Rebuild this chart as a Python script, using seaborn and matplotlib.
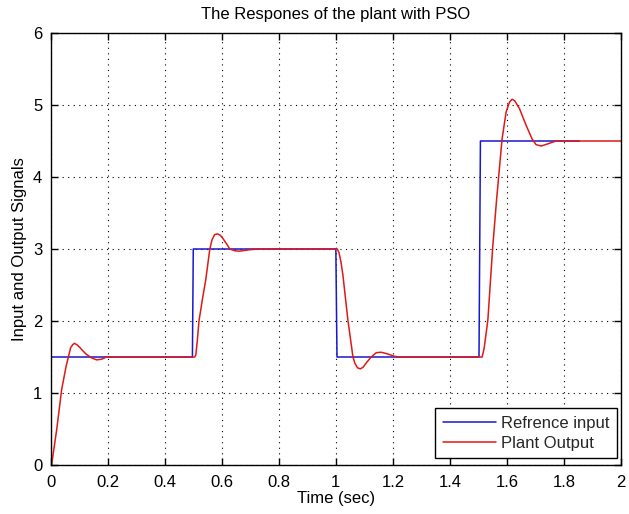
import matplotlib
matplotlib.use("Agg")
import matplotlib.pyplot as plt
import seaborn as sns
import pandas as pd

# Reference input (step signal)
ref_t = [0.0, 0.497, 0.500, 1.000, 1.004, 1.502, 1.507, 1.854]
ref_v = [1.5, 1.5, 3.0, 3.0, 1.5, 1.5, 4.5, 4.5]

# Plant output
out_t = [0.003, 0.021, 0.0385, 0.054, 0.062, 0.070, 0.077, 0.083, 0.092, 0.1026,
         0.114, 0.126, 0.1436, 0.161, 0.179, 0.196, 0.505,
         0.509, 0.514, 0.520, 0.532, 0.544, 0.558, 0.566, 0.575, 0.585, 0.595, 0.605, 0.617,
         0.628, 0.646, 0.663, 0.680, 0.698, 0.730, 1.005,
         1.011, 1.018, 1.025, 1.042, 1.060, 1.067, 1.076, 1.086, 1.096, 1.107, 1.124, 1.142,
         1.159, 1.175, 1.188, 1.205, 1.223, 1.513,
         1.520, 1.533, 1.550, 1.564, 1.583, 1.597, 1.609, 1.618, 1.627, 1.644, 1.667,
         1.688, 1.702, 1.720, 1.743, 1.772, 2.0]
out_v = [0.0, 0.49, 1.05, 1.37, 1.5, 1.63, 1.67, 1.69, 1.67, 1.63,
         1.58, 1.534, 1.488, 1.46, 1.47, 1.5, 1.5,
         1.53, 1.72, 2.0, 2.3, 2.58, 3.0, 3.13, 3.20, 3.21, 3.19, 3.14, 3.07,
         3.0, 2.975, 2.97, 2.98, 2.99, 3.0, 3.0,
         2.95, 2.82, 2.63, 2.02, 1.5, 1.41, 1.35, 1.335, 1.36, 1.42, 1.5, 1.56,
         1.566, 1.55, 1.534, 1.51, 1.5, 1.5,
         1.62, 2.01, 3.02, 3.70, 4.53, 4.90, 5.04, 5.08, 5.06, 4.95, 4.72,
         4.53, 4.45, 4.43, 4.46, 4.50, 4.5]

x_ticks = [0, 0.2, 0.4, 0.6, 0.8, 1.0, 1.2, 1.4, 1.6, 1.8, 2.0]
x_tick_labels = ["0", "0.2", "0.4", "0.6", "0.8", "1", "1.2", "1.4", "1.6", "1.8", "2"]
y_ticks = [0, 1, 2, 3, 4, 5, 6]

sns.set_theme(style="white")
plt.rcParams["font.family"] = ["Liberation Sans", "DejaVu Sans"]

fig = plt.figure(figsize=(6.29, 5.14), dpi=100)
ax = fig.add_axes([50.7 / 629, 49 / 514, (621 - 50.7) / 629, (465 - 33) / 514])

ref_df = pd.DataFrame({"t": ref_t, "v": ref_v})
out_df = pd.DataFrame({"t": out_t, "v": out_v})
sns.lineplot(data=ref_df, x="t", y="v", sort=False, estimator=None, ax=ax,
             color="#1818d0", linewidth=1.1, label="Refrence input")
sns.lineplot(data=out_df, x="t", y="v", sort=False, estimator=None, ax=ax,
             color="#e01818", linewidth=1.1, label="Plant Output")

ax.set_xlim(0, 2)
ax.set_ylim(0, 6)
ax.set_xticks(x_ticks)
ax.set_xticklabels(x_tick_labels)
ax.set_yticks(y_ticks)
ax.grid(True, color="black", linestyle=(0, (1, 4)), linewidth=0.8)
for s in ax.spines.values():
    s.set_visible(True)
    s.set_color("black")
    s.set_linewidth(1.0)
ax.tick_params(direction="in", length=5, width=1, colors="black",
               top=True, right=True, bottom=True, left=True,
               labelsize=12, pad=6)
ax.tick_params(axis="x", pad=7)
ax.set_xlabel("Time (sec)", fontsize=12, color="black", labelpad=1)
ax.set_ylabel("Input and Output Signals", fontsize=12, color="black", labelpad=4)
ax.set_title("The Respones of the plant with PSO", fontsize=12, color="black", pad=10)

leg = ax.legend(loc="lower right", bbox_to_anchor=(0.993, 0.016), fontsize=12,
                frameon=True, fancybox=False, edgecolor="black", framealpha=1,
                handlelength=3.2, handletextpad=0.3, borderpad=0.45,
                labelspacing=0.3, borderaxespad=0)
leg.get_frame().set_linewidth(1.0)

fig.savefig("out.png", dpi=100)
